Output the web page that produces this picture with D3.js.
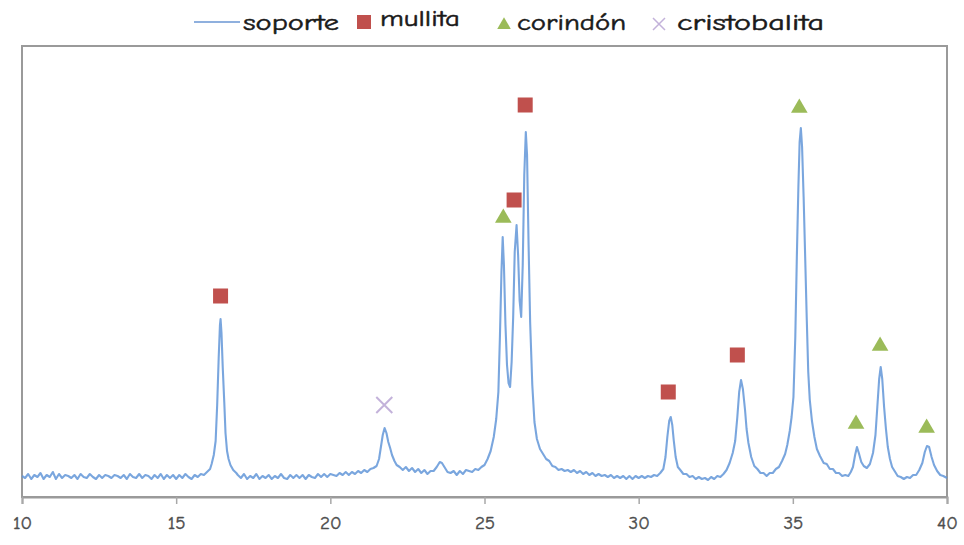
<!DOCTYPE html>
<html>
<head>
<meta charset="utf-8">
<script src="https://cdn.jsdelivr.net/npm/d3@7"></script>
<style>
  html, body { margin: 0; padding: 0; background: #ffffff; }
  svg { display: block; }
</style>
</head>
<body>
<svg id="chart" width="964" height="545"></svg>
<script>
// Difractograma del soporte: ángulo 2θ (°) e intensidad (u.a.)
const soporte = [
  [10.0,21],[10.1,19],[10.2,23],[10.3,18],[10.4,22],[10.5,20],[10.6,24],[10.7,18],[10.8,22],[10.9,20],
  [11.0,25],[11.1,18],[11.2,23],[11.3,19],[11.4,22],[11.5,21],[11.6,19],[11.7,22],[11.8,18],[11.9,23],
  [12.0,20],[12.1,19],[12.2,23],[12.3,20],[12.4,18],[12.5,22],[12.6,19],[12.7,22],[12.8,21],[12.9,19],
  [13.0,22],[13.1,21],[13.2,19],[13.3,22],[13.4,18],[13.5,23],[13.6,20],[13.7,19],[13.8,23],[13.9,19],
  [14.0,22],[14.1,21],[14.2,18],[14.3,22],[14.4,19],[14.5,23],[14.6,18],[14.7,22],[14.8,19],[14.9,22],
  [15.0,18],[15.1,22],[15.2,19],[15.3,23],[15.4,20],[15.5,18],[15.6,22],[15.7,20],[15.8,23],[15.9,22],
  [16.0,25],[16.1,28],[16.15,33],[16.22,42],[16.28,56],[16.33,92],[16.38,140],[16.42,172],[16.44,178],
  [16.47,164],[16.51,130],[16.56,95],[16.6,64],[16.65,46],[16.7,38],[16.76,32],[16.85,27],[16.95,24],
  [17.0,22],[17.1,19],[17.2,23],[17.3,18],[17.4,21],[17.5,19],[17.6,23],[17.7,18],[17.8,21],[17.9,19],
  [18.0,22],[18.1,18],[18.2,21],[18.3,19],[18.4,23],[18.5,19],[18.6,18],[18.7,22],[18.8,19],[18.9,22],
  [19.0,19],[19.1,22],[19.2,18],[19.3,22],[19.4,20],[19.5,19],[19.6,23],[19.7,20],[19.8,23],[19.9,20],
  [20.0,23],[20.1,22],[20.2,21],[20.3,24],[20.4,22],[20.5,25],[20.6,22],[20.7,25],[20.8,23],[20.9,26],
  [21.0,24],[21.1,27],[21.2,25],[21.3,28],[21.4,29],[21.5,31],[21.58,38],[21.64,50],[21.7,62],[21.76,69],
  [21.82,64],[21.88,55],[21.94,49],[22.0,42],[22.08,36],[22.15,32],[22.25,30],[22.35,27],[22.45,30],
  [22.55,26],[22.65,29],[22.75,25],[22.85,28],[22.95,24],[23.05,27],[23.15,23],[23.25,26],[23.35,26],
  [23.45,30],[23.55,35],[23.62,34],[23.7,30],[23.8,25],[23.9,24],[24.0,26],[24.1,22],[24.2,26],[24.3,23],
  [24.4,27],[24.5,26],[24.6,25],[24.7,28],[24.8,27],[24.9,30],[25.0,32],[25.1,38],[25.2,46],[25.3,60],
  [25.38,78],[25.45,105],[25.5,160],[25.55,225],[25.59,260],[25.63,232],[25.68,172],[25.73,132],[25.78,114],
  [25.83,110],[25.88,135],[25.93,180],[25.98,245],[26.04,272],[26.09,242],[26.14,196],[26.19,180],
  [26.24,232],[26.29,322],[26.34,365],[26.38,342],[26.43,252],[26.48,175],[26.55,112],[26.62,75],
  [26.7,58],[26.8,48],[26.9,43],[27.0,38],[27.1,36],[27.2,31],[27.3,30],[27.4,27],[27.5,28],[27.6,26],
  [27.7,27],[27.8,25],[27.9,27],[28.0,24],[28.1,26],[28.2,23],[28.3,25],[28.4,22],[28.5,24],[28.6,21],
  [28.7,23],[28.8,21],[28.9,22],[29.0,20],[29.1,22],[29.2,19],[29.3,21],[29.4,19],[29.5,21],[29.6,18],
  [29.7,21],[29.8,18],[29.9,21],[30.0,19],[30.1,21],[30.2,19],[30.3,21],[30.4,20],[30.5,22],[30.6,21],
  [30.7,24],[30.8,28],[30.87,40],[30.93,60],[30.99,76],[31.04,80],[31.09,72],[31.14,56],[31.2,40],
  [31.27,30],[31.35,27],[31.45,23],[31.55,23],[31.65,20],[31.75,21],[31.85,18],[31.95,20],[32.05,18],
  [32.15,19],[32.25,17],[32.35,20],[32.45,18],[32.55,21],[32.65,20],[32.75,23],[32.85,27],[32.95,34],
  [33.05,44],[33.13,56],[33.2,80],[33.26,105],[33.32,117],[33.38,108],[33.45,87],[33.5,68],[33.56,54],
  [33.65,40],[33.75,31],[33.85,28],[33.95,24],[34.05,24],[34.15,21],[34.25,24],[34.35,24],[34.45,28],
  [34.55,30],[34.65,36],[34.75,43],[34.82,52],[34.9,66],[34.96,80],[35.02,100],[35.08,160],[35.13,240],
  [35.18,310],[35.22,355],[35.26,369],[35.3,350],[35.35,300],[35.4,240],[35.45,180],[35.5,125],[35.55,97],
  [35.62,76],[35.7,60],[35.78,48],[35.88,41],[36.0,34],[36.1,33],[36.2,28],[36.3,28],[36.4,24],[36.5,24],
  [36.6,21],[36.7,22],[36.8,21],[36.88,25],[36.95,30],[37.02,42],[37.08,50],[37.14,44],[37.22,35],
  [37.3,31],[37.4,29],[37.5,33],[37.6,44],[37.68,62],[37.74,90],[37.8,118],[37.85,130],[37.9,118],
  [37.96,90],[38.02,68],[38.08,50],[38.15,38],[38.22,30],[38.3,26],[38.4,21],[38.5,20],[38.6,18],
  [38.7,20],[38.8,19],[38.9,22],[39.0,22],[39.1,27],[39.2,34],[39.28,45],[39.35,51],[39.42,50],
  [39.5,40],[39.58,32],[39.68,26],[39.78,22],[39.88,21],[40.0,19]
];

// Fases identificadas: posición del marcador (2θ, intensidad)
const mullita = [[16.44,201],[25.96,297],[26.32,392],[30.96,105],[33.2,142]];
const corindon = [[25.61,280],[35.21,390],[37.05,74],[37.83,152],[39.34,70]];
const cristobalita = [[21.75,92]];

const xTicks = [10, 15, 20, 25, 30, 35, 40];
const legendItems = ["soporte", "mullita", "corindón", "cristobalita"];

const colors = {
  soporte: "#6396d8",
  mullita: "#c0504d",
  corindon: "#9bbb59",
  cristobalita: "#c3b2da"
};

const svg = d3.select("#chart");
const plot = { left: 22, right: 947, top: 46, bottom: 497 };

const x = d3.scaleLinear().domain([10, 40]).range([plot.left, plot.right]);
const y = d3.scaleLinear().domain([0, 451]).range([plot.bottom, plot.top]);

const fontFam = "'Comic Sans MS', 'Comic Neue', 'Open Sans', 'DejaVu Sans', sans-serif";

// Marco del área de trazado
svg.append("rect")
  .attr("x", plot.left).attr("y", plot.top)
  .attr("width", plot.right - plot.left).attr("height", plot.bottom - plot.top)
  .attr("fill", "none").attr("stroke", "#9a9a9a").attr("stroke-width", 2);

// Eje X
const xAxis = d3.axisBottom(x).tickValues(xTicks).tickSize(7).tickPadding(12).tickFormat(d3.format("d"));
const gx = svg.append("g").attr("transform", `translate(0,${plot.bottom})`).call(xAxis);
gx.select(".domain").attr("stroke", "#9a9a9a").attr("stroke-width", 2);
gx.selectAll(".tick line").attr("stroke", "#a8a8a8").attr("stroke-width", 1.5);
gx.selectAll(".tick text")
  .attr("fill", "#4d4d4d")
  .attr("stroke", "#4d4d4d").attr("stroke-width", 0.4)
  .style("font-family", fontFam)
  .style("font-size", "19px");

// Curva del soporte
const line = d3.line().x(d => x(d[0])).y(d => y(d[1])).curve(d3.curveLinear);
svg.append("path")
  .datum(soporte)
  .attr("d", line)
  .attr("fill", "none")
  .attr("stroke", colors.soporte)
  .attr("stroke-width", 2.1)
  .attr("stroke-linejoin", "round")
  .attr("opacity", 0.85);

// Marcadores de fases
const sq = 15;
svg.append("g").selectAll("rect")
  .data(mullita).join("rect")
  .attr("x", d => x(d[0]) - sq / 2)
  .attr("y", d => y(d[1]) - sq / 2)
  .attr("width", sq).attr("height", sq)
  .attr("fill", colors.mullita);

const tri = d3.symbol().type(d3.symbolTriangle).size(120);
svg.append("g").selectAll("path")
  .data(corindon).join("path")
  .attr("d", tri)
  .attr("transform", d => `translate(${x(d[0])},${y(d[1]) + 1})`)
  .attr("fill", colors.corindon);

const cross = 8;
svg.append("g").selectAll("path")
  .data(cristobalita).join("path")
  .attr("d", d => {
    const cx = x(d[0]), cy = y(d[1]);
    return `M${cx - cross},${cy - cross}L${cx + cross},${cy + cross}M${cx - cross},${cy + cross}L${cx + cross},${cy - cross}`;
  })
  .attr("stroke", colors.cristobalita)
  .attr("stroke-width", 2)
  .attr("fill", "none");

// Leyenda
const lg = svg.append("g").attr("font-family", fontFam).attr("font-size", 22)
  .attr("fill", "#1a1a1a").attr("stroke", "#1a1a1a").attr("stroke-width", 0.5);
const ly = 22;
lg.append("line").attr("x1", 194).attr("x2", 240).attr("y1", ly).attr("y2", ly)
  .attr("stroke", "#8fb0de").attr("stroke-width", 2);
lg.append("text").attr("x", 243).attr("y", ly + 8).attr("textLength", 96).attr("lengthAdjust", "spacingAndGlyphs").text(legendItems[0]);
lg.append("rect").attr("x", 357).attr("y", ly - 7).attr("width", 14).attr("height", 14)
  .attr("fill", colors.mullita).attr("stroke", "none");
lg.append("text").attr("x", 380).attr("y", ly + 4).attr("textLength", 80).attr("lengthAdjust", "spacingAndGlyphs").text(legendItems[1]);
lg.append("path").attr("d", d3.symbol().type(d3.symbolTriangle).size(80))
  .attr("transform", `translate(504,${ly + 3})`).attr("fill", colors.corindon).attr("stroke", "none");
lg.append("text").attr("x", 517).attr("y", ly + 8).attr("textLength", 109).attr("lengthAdjust", "spacingAndGlyphs").text(legendItems[2]);
lg.append("path")
  .attr("d", `M653,${ly - 4}L665,${ly + 8}M653,${ly + 8}L665,${ly - 4}`)
  .attr("stroke", colors.cristobalita).attr("stroke-width", 1.5);
lg.append("text").attr("x", 677).attr("y", ly + 8).attr("textLength", 147).attr("lengthAdjust", "spacingAndGlyphs").text(legendItems[3]);
</script>
</body>
</html>
